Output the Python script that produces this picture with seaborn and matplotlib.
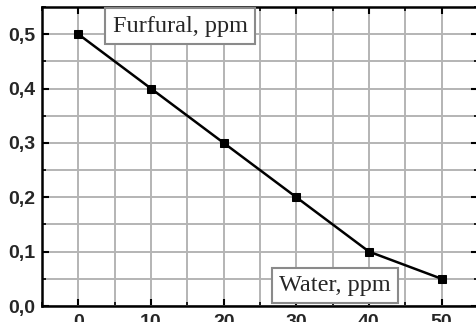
import numpy as np
import pandas as pd
import seaborn as sns
import matplotlib.pyplot as plt
from matplotlib.ticker import MultipleLocator, FuncFormatter

# data
water_ppm = [0, 10, 20, 30, 40, 50]
furfural_ppm = [0.5, 0.4, 0.3, 0.2, 0.1, 0.05]

df = pd.DataFrame({'Water': water_ppm, 'Furfural': furfural_ppm})

sns.set_style("ticks")
plt.rcParams['font.family'] = ['Liberation Sans', 'DejaVu Sans']

fig = plt.figure(figsize=(4.76, 3.22), dpi=100)
ax = fig.add_axes([42 / 476, 16 / 322, 436 / 476, 299 / 322])

sns.lineplot(data=df, x='Water', y='Furfural', ax=ax, color='black', linewidth=1.8,
             marker='s', markersize=6, markeredgecolor='black', markerfacecolor='black')

ax.set_xlim(-5, 55)
ax.set_ylim(0, 0.55)
ax.xaxis.set_major_locator(MultipleLocator(10))
ax.xaxis.set_minor_locator(MultipleLocator(5))
ax.yaxis.set_major_locator(MultipleLocator(0.1))
ax.yaxis.set_minor_locator(MultipleLocator(0.05))
ax.yaxis.set_major_formatter(FuncFormatter(lambda v, p: f'{v:.1f}'.replace('.', ',')))

ax.grid(True, which='both', color='#b4b4b4', linewidth=1.4)
ax.set_axisbelow(True)

ax.tick_params(which='both', direction='in', top=True, right=True, color='black')
ax.tick_params(which='major', length=5, width=1.5, pad=5, labelsize=14)
ax.tick_params(axis='x', which='major', pad=6)
ax.tick_params(which='minor', length=3, width=1.2)
for lab in ax.get_xticklabels() + ax.get_yticklabels():
    lab.set_fontweight('bold')
for s in ax.spines.values():
    s.set_linewidth(1.8)
    s.set_color('black')

ax.set_xlabel('')
ax.set_ylabel('')

box = dict(boxstyle='square,pad=0.3', facecolor='white', edgecolor='#8a8a8a', linewidth=1.5)
ax.text(14.0, 0.515, 'Furfural, ppm', family='Liberation Serif', fontsize=17.5,
        ha='center', va='center', bbox=box)
ax.text(35.3, 0.038, 'Water, ppm', family='Liberation Serif', fontsize=17.5,
        ha='center', va='center', bbox=box)

fig.savefig('out.png', dpi=100)
